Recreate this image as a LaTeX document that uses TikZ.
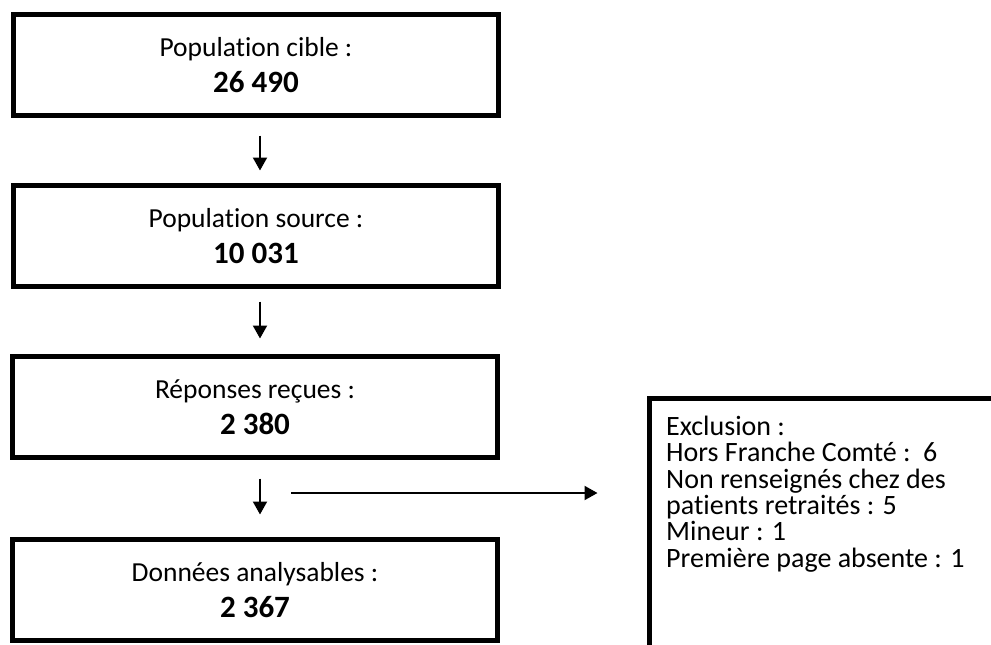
\documentclass[tikz,border=0pt]{standalone}
\usepackage{fontspec}
\setmainfont{Carlito}[Ligatures=NoCommon]
\usetikzlibrary{arrows.meta}
\begin{document}
\begin{tikzpicture}[x=1pt,y=-1pt,
  flowbox/.style={draw,line width=5pt,minimum width=485pt,minimum height=101pt,inner sep=0pt,align=center,font=\fontsize{27.5}{36}\selectfont},
  arr/.style={line width=2pt,-{Triangle[width=14pt,length=13pt]}},
  exclbox/.style={draw,line width=5pt,minimum width=420pt,minimum height=320pt,inner sep=0pt,anchor=north west},
  excltext/.style={anchor=north west,inner sep=0pt,align=left,font=\fontsize{28}{26.3}\selectfont}]
\useasboundingbox (0,0) rectangle (991,645);
\clip (0,0) rectangle (991,645);
\newcommand\bignum[1]{{\fontsize{31}{36}\selectfont\bfseries #1}}
\node[flowbox] (b1) at (256,65) {Population cible :\\\bignum{26 490}};
\node[flowbox] (b2) at (256,236) {Population source :\\\bignum{10 031}};
\node[flowbox] (b3) at (255,407) {Réponses reçues :\\\bignum{2 380}};
\node[flowbox] (b4) at (255,590) {Données analysables :\\\bignum{2 367}};
\node[exclbox] (excl) at (646.5,395.5) {};
\node[excltext] (exclt) at (666,416) {Exclusion :\\Hors Franche Comté :~~6\\Non renseignés chez des\\patients retraités : 5\\Mineur : 1\\Première page absente : 1};
\coordinate (hs) at (291,493);
\draw[arr,shorten <=17.5pt,shorten >=12.5pt] ([xshift=4pt]b1.south) -- ([xshift=4pt]b2.north);
\draw[arr,shorten <=12.5pt,shorten >=15.5pt] ([xshift=4pt]b2.south) -- ([xshift=4pt]b2.south |- b3.north);
\draw[arr,shorten <=18.5pt,shorten >=22.5pt] ([xshift=5pt]b3.south) -- ([xshift=5pt]b3.south |- b4.north);
\draw[arr,shorten >=49pt] (hs) -- (hs -| excl.west);
\end{tikzpicture}
\end{document}
